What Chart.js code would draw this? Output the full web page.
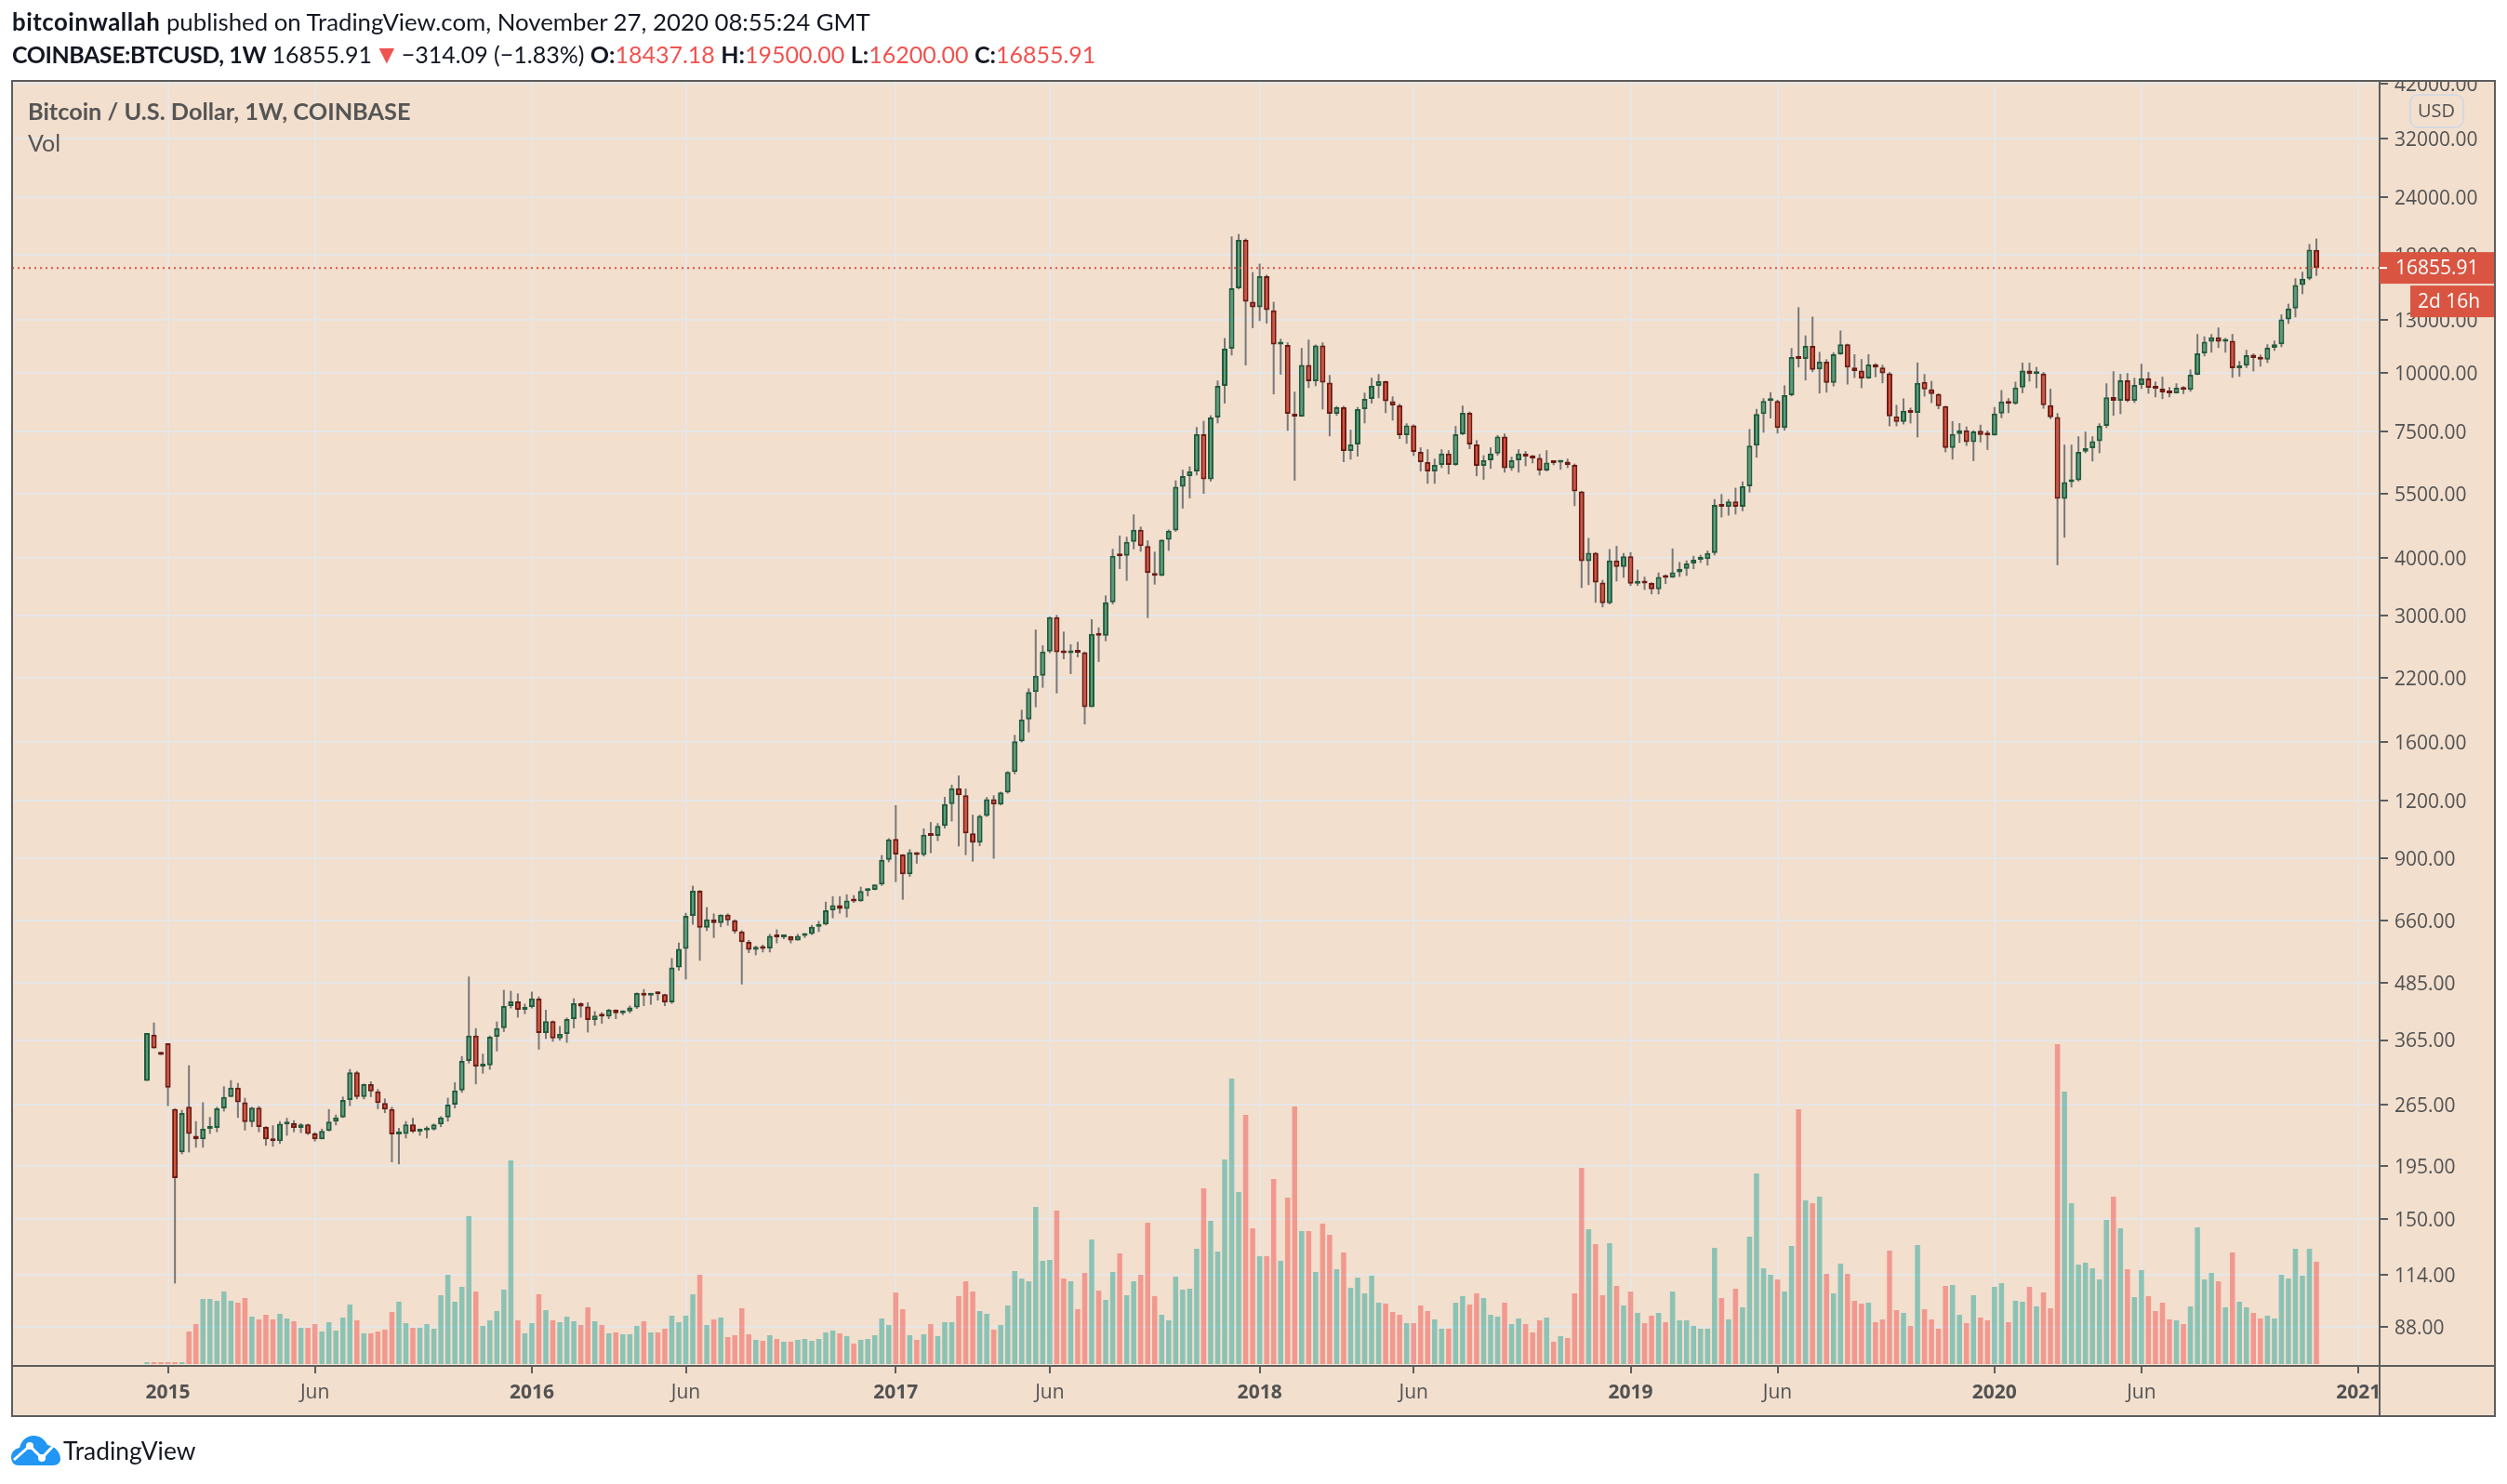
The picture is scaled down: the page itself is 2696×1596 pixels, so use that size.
<!DOCTYPE html>
<html>
<head>
<meta charset="utf-8">
<title>BTCUSD 1W</title>
<script src="https://cdn.jsdelivr.net/npm/chart.js@4/dist/chart.umd.min.js"></script>
<style>
  html, body { margin: 0; padding: 0; background: #fff; }
  #wrap { position: relative; width: 2696px; height: 1596px; overflow: hidden; }
  canvas { position: absolute; left: 0; top: 0; }
  .txt { position: absolute; white-space: nowrap; font-family: Lato, "Open Sans", sans-serif; color: #131722; }
  .txt b { font-weight: 700; }
  .red { color: #ef5350; }
</style>
</head>
<body>
<div id="wrap">
  <canvas id="btcChart" width="2696" height="1596"></canvas>
  <div class="txt" style="left:13px;top:8px;font-size:25.8px"><b style="letter-spacing:.5px">bitcoinwallah</b> published on TradingView.com, November 27, 2020 08:55:24 GMT</div>
  <div class="txt" style="left:13px;top:43px;font-size:25px"><b style="letter-spacing:-.45px">COINBASE:BTCUSD, 1W</b> 16855.91<span class="red" style="font-size:28px;margin:0 2px 0 2px;line-height:20px">▼</span>−314.09 (−1.83%) <b>O:</b><span class="red">18437.18</span> <b>H:</b><span class="red">19500.00</span> <b>L:</b><span class="red">16200.00</span> <b>C:</b><span class="red">16855.91</span></div>
  <div class="txt" style="left:30px;top:104px;font-size:25.3px;color:#555;font-weight:700">Bitcoin / U.S. Dollar, 1W, COINBASE</div>
  <div class="txt" style="left:30px;top:138px;font-size:25px;color:#555">Vol</div>
  <svg style="position:absolute;left:12px;top:1543px" width="54" height="34" viewBox="0 0 54 34">
    <path fill="#2196f3" d="M8 33C2 33 0 28 0 24c0-5 4-9 9-10C11 6 17 1 24 1c7 0 12 4 15 10 8 1 14 8 14 15 0 4-3 7-8 7z"/>
    <path fill="none" stroke="#fff" stroke-width="3" d="M3 27 L20 12 L33 25 L49 8"/>
    <circle cx="20" cy="12" r="4" fill="#fff"/><circle cx="33" cy="25" r="4" fill="#fff"/>
  </svg>
  <div class="txt" style="left:68px;top:1544px;font-size:26.4px">TradingView</div>
</div>
<script>
const opens = [298,375,344,359,259,209,262,227,223,235,236,260,275,288,268,243,261,237,223,221,240,241.5,236,240,229.6,223,232.5,243.5,248.5,271,
311,275,293,283,267,259,228.5,229,240,231.6,233,234,240,248.5,265,284,329,373,320,322,371,387,432,442,424,430,448,378,401,368,
376,405,438,431,403,413,410,424,417,420.7,429,461,455,459,458,440,523,574,676,766,637,664,652,680,661,626,594,571,580,575,
612,608,611,598,612,618,640,648,695,713,700,730,727,765,769,790,893,990,917,831,927,914,1011,1005,1056,1178,1274,1230,1018,972,
1110,1207,1175,1247,1380,1607,1793,2053,2227,2511,2979,2500,2490,2500,2500,1906,2741,2716,3207,4050,4040,4329,4597,4237,3706,3655,4370,4580,5686,6000,
6140,7385,5899,8025,9389,11290,15240,19380,14245,13860,16185,13660,11520,11500,8175,8062,10410,9608,11467,9535,8175,8444,6796,7020,8365,8800,9389,9608,8694,8520,
7350,7710,6765,6430,6140,6340,6711,6340,7385,8210,7020,6310,6490,6711,7294,6235,6490,6711,6620,6560,6170,6420,6410,6440,6340,5556,3930,4097,3535,3190,
3945,3820,4030,3517,3540,3526,3419,3650,3622,3722,3785,3885,3958,3975,4093,5196,5150,5292,5150,5700,6980,8166,8712,8712,7620,8958,10823,10724,11440,10190,
10576,9525,10974,11545,10287,10130,9733,10450,10287,9990,8066,7847,8294,8210,9570,9223,9012,8487,6896,7390,7530,7100,7510,7380,7340,8180,8685,8590,9308,10130,
9950,9980,8527,8037,5355,5818,5876,6770,6890,7129,7700,8880,8720,9650,8720,9430,9740,9330,9260,9110,9050,9310,9200,9920,11030,11680,11950,11680,11740,10250,
10380,10960,10800,10690,11340,11540,13050,13790,15480,15980,18437.18];
const highs = [378,398,344,359,260,258,322,244,268,249,262,290,299,295,274,262,263,238,239,244,248,245,241.5,241,231,235,259,252,275.5,316,
313,294,297,286,273,262,236,244,248,235,238,241,250,274,296,337,500,387,341,373,400,468,466,460,437,464,453,424,402,391,
408,449,440,440,421,419,426,425,423,433,462,470,461,465,459,548,592,686,785,768,706,684,681,684,664,629,600,583,586,618,
632,612,612,618,620,646,659,725,745,745,752,749,781,775,791,914,994,1171,918,941,927,1043,1077,1071,1220,1296,1357,1272,1117,1117,
1219,1230,1252,1386,1660,1880,2091,2801,2590,2985,3010,2771,2603,2635,2510,2947,2830,3317,4179,4464,4437,4957,4668,4357,4121,4380,4600,5872,6188,6293,
7651,7890,8110,9637,11900,19710,19950,19500,16510,17214,16300,14245,11860,11650,9118,11327,11810,11520,11645,9907,8490,8500,7546,8450,9076,9770,9954,9630,8910,8590,
7794,7750,6915,6850,6540,6850,6820,7690,8510,8260,7170,6650,6915,7350,7407,6600,6850,6790,6660,6690,6818,6480,6460,6540,6380,5570,4411,4110,3582,4174,
4240,4093,4112,3768,3640,3540,3716,3680,4187,3915,3945,4037,4056,4143,5350,5484,5350,5660,5840,7574,8370,8830,9095,8760,9408,11317,13866,12054,13240,11110,
10710,11090,12354,11570,10980,10720,10980,10500,10420,10045,8540,8820,8420,10540,9950,9620,9050,8500,7880,7800,7670,7530,7740,7520,8450,9190,8830,9580,10530,10530,
10310,10050,9250,8200,7009,7009,7306,7477,7306,7795,9505,10090,9955,10000,9770,10472,10050,9590,9820,9330,9505,9370,10180,12140,12000,12140,12540,11900,12140,10620,
11220,11020,10960,11540,11750,13380,14110,16010,16530,18980,19500];
const lows = [298,350,339,263,109,207,209,214,214,229,231,256,275,248,233,237,231,216,215,218,227,231,230,228,220.6,223,232,239,248,263,
272,272,275,259,254,199,197,224,230,227,224,233,237,243.5,260,281,325,293,309,315,345,380,427,408,415,427,348,367,362,364,
360,387,408,379,392,396,405,405,413,417,426,432,435,444,432,437,515,493,647,541,627,606,639,644,619,481,562,556,564,564,
590,602,590,598,606,615,624,645,668,684,671,721,725,745,768,785,882,799,732,821,876,908,923,980,1043,1080,954,914,885,956,
1105,898,1170,1240,1366,1600,1681,1904,2097,2490,2040,2417,2245,2440,1749,1906,2384,2643,3173,3781,3566,4172,4121,2965,3501,3650,4140,4548,5105,5370,
6019,5496,5836,7794,8600,10917,15150,10390,12500,12950,12790,9000,9925,7511,5863,8050,9290,9375,8350,7308,8090,6430,6510,6610,7794,8600,8830,8200,7900,7213,
7040,6630,6140,5774,5774,6245,6050,6310,7350,6860,5995,5890,6220,6640,6103,6160,6103,6300,6390,6019,6140,6330,6190,6245,5168,3443,3491,3198,3127,3173,
3556,3622,3478,3478,3410,3335,3335,3510,3620,3636,3655,3780,3900,3848,4045,4887,4930,4957,5040,5530,6574,7440,7985,7410,7517,8915,10287,9643,10045,9040,
9080,9360,10950,9452,9760,9280,9720,9800,9510,7680,7680,7750,7790,7266,8902,8620,8360,6750,6510,7070,6970,6460,7090,6830,7330,8000,8200,8550,9050,9590,
9280,8380,7960,3853,4418,5670,5840,6720,6450,6720,7615,8090,8160,8660,8625,9245,9030,8870,8790,8870,9040,9010,9120,9900,10870,11070,11330,11070,9770,9820,
10260,10090,10330,10520,11170,11380,12770,13190,14800,15860,16200];
const closes = [378,350,339,288,184,254,229,223,235,236,260,275,288,268,243,261,237,223,221,241,241.5,236,240,229,223,232.5,243.5,248.5,271,311,
275,293,283,267,258.6,228.5,229,240,231.6,233,234,240,248.5,265,284,329,373,320,322,371,387,432,442,424,430,449,378,401,368,376,
405,438,431,403,412,410,424,417,420.7,429,461,455,459,458,440,523,574,676,766,637,664,652,680,661,626,593,571,580,574,612,
608,611,598,612,618,640,649,695,713,700,729,726,765,769,790,893,988,917,831,927,914,1011,1005,1056,1178,1274,1230,1018,972,1110,
1207,1175,1247,1380,1607,1793,2053,2227,2511,2979,2500,2490,2500,2495,1906,2741,2716,3207,4040,4030,4329,4597,4237,3706,3655,4370,4576,5686,6000,6140,
7385,5899,8025,9389,11290,15240,19380,14245,13860,16185,13666,11520,11530,8175,8062,10410,9608,11467,9535,8175,8444,6796,7020,8365,8800,9389,9608,8694,8520,7350,
7710,6765,6430,6140,6340,6711,6340,7385,8210,7020,6310,6490,6711,7294,6235,6490,6711,6610,6550,6170,6410,6400,6440,6340,5556,3930,4097,3535,3190,3945,
3820,4030,3517,3535,3520,3419,3636,3620,3722,3785,3885,3958,3975,4093,5196,5150,5292,5150,5700,6980,8166,8712,8730,7620,8958,10823,10724,11440,10160,10576,
9525,10974,11545,10287,10110,9733,10440,10287,9990,8066,7847,8294,8210,9525,9223,9012,8487,6896,7390,7530,7100,7490,7360,7340,8180,8685,8590,9308,10130,9950,
9980,8527,8030,5355,5818,5876,6765,6890,7129,7700,8870,8720,9650,8720,9430,9740,9300,9260,9090,9050,9300,9200,9920,11030,11680,11950,11680,11720,10250,10380,
10930,10780,10690,11340,11540,13050,13790,15480,15980,18450,16855.91];
const volumes = [6,6,6,6,6,6,105,129,210,210,204,234,204,198,213,153,144,159,144,162,147,138,117,117,129,105,135,108,150,192,
141,99,99,105,111,168,201,132,117,117,129,114,222,288,201,249,477,234,123,141,171,240,657,141,99,132,225,174,141,135,
153,138,126,183,138,126,99,102,96,96,123,138,102,102,114,156,135,156,225,288,126,144,150,87,93,180,96,78,75,93,
81,72,72,78,81,75,81,102,108,99,90,66,78,81,93,147,126,231,177,93,78,96,129,90,135,135,219,267,234,171,
162,111,126,189,300,276,267,507,333,336,495,276,267,177,294,402,237,207,297,357,222,267,288,456,219,159,141,282,240,243,
372,567,462,363,660,921,555,804,438,348,348,597,333,537,831,429,429,297,453,417,306,360,246,279,228,285,198,195,168,159,
132,132,189,171,144,114,114,198,219,192,228,213,159,153,198,129,147,129,102,141,150,72,90,84,228,633,435,387,222,390,
252,189,234,165,132,156,165,135,234,141,141,123,114,114,375,213,144,243,183,411,615,309,288,273,234,381,822,528,519,540,
291,228,324,291,204,195,198,135,144,366,174,165,123,384,177,144,114,252,255,159,132,222,150,141,249,261,135,204,201,249,
186,231,180,1032,879,519,321,327,309,273,465,540,438,306,216,303,219,171,198,144,141,129,186,441,273,294,267,183,360,201,
183,165,147,156,147,288,276,372,285,372,330];

const priceTicks = [42000,32000,24000,18000,13000,10000,7500,5500,4000,3000,2200,1600,1200,900,660,485,365,265,195,150,114,88];
const timeTicks = [3,24,55,77,107,129,159,181,212,233,264,285,316];
const timeLabels = ['2015','Jun','2016','Jun','2017','Jun','2018','Jun','2019','Jun','2020','Jun','2021'];

const UP_FILL = '#5c9c7b', UP_EDGE = '#1f5c3d';
const DOWN_FILL = '#d9503c', DOWN_EDGE = '#6d1a14';
const AXIS = '#5d5d5d', GRID = '#e6e6e6', PANEL = '#f2dfce', LABEL = '#525252', BADGE = '#d95542';

const isUp = i => closes[i] >= opens[i];
const last = closes.length - 1;

// redraws the frame, the cut-off top label and the badges on the price axis
const framePlugin = {
  id: 'frame',
  beforeDraw(chart) {
    const { ctx, chartArea: a } = chart;
    ctx.save();
    ctx.fillStyle = PANEL;
    ctx.fillRect(a.left, a.top, 2683 - a.left, 1523 - a.top);
    ctx.restore();
  },
  afterDraw(chart) {
    const { ctx, chartArea: a, scales } = chart;
    ctx.save();
    ctx.fillStyle = '#fff';
    ctx.fillRect(a.right, 60, 2696 - a.right, a.top - 60);
    ctx.strokeStyle = AXIS;
    ctx.lineWidth = 2;
    ctx.strokeRect(a.left, a.top, 2683 - a.left, 1523 - a.top);
    ctx.beginPath();
    ctx.moveTo(a.right, a.top); ctx.lineTo(a.right, 1523);
    ctx.moveTo(a.left, a.bottom); ctx.lineTo(2683, a.bottom);
    ctx.stroke();

    ctx.fillStyle = PANEL;
    ctx.strokeStyle = '#d5d9e0';
    ctx.beginPath();
    ctx.roundRect(2592, 102, 57, 35, 8);
    ctx.fill(); ctx.stroke();
    ctx.fillStyle = LABEL;
    ctx.font = '20px "Open Sans"';
    ctx.textAlign = 'center';
    ctx.textBaseline = 'middle';
    ctx.fillText('USD', 2620, 120);

    const py = scales.y.getPixelForValue(closes[last]);
    ctx.fillStyle = BADGE;
    ctx.fillRect(a.right, py - 17, 2682 - a.right, 34);
    ctx.fillRect(2592, py + 19, 90, 34);
    ctx.fillStyle = '#fff';
    ctx.fillRect(a.right, py - 1, 8, 2);
    ctx.font = '21px "Open Sans"';
    ctx.textAlign = 'left';
    ctx.fillText(closes[last].toFixed(2), 2576, py + 1);
    ctx.fillText('2d 16h', 2600, py + 37);
    ctx.restore();
  }
};

new Chart(document.getElementById('btcChart').getContext('2d'), {
  type: 'bar',
  plugins: [framePlugin],
  data: {
    datasets: [
      {
        // last close line
        type: 'line',
        data: [{ x: -19.27, y: closes[last] }, { x: 319.03, y: closes[last] }],
        yAxisID: 'y',
        borderColor: BADGE,
        borderWidth: 2,
        borderDash: [2, 4],
        pointRadius: 0,
        order: 0
      },
      {
        label: 'body',
        data: opens.map((o, i) => ({ x: i, y: [o, closes[i]] })),
        yAxisID: 'y',
        barThickness: 6,
        minBarLength: 3,
        borderWidth: 2,
        borderSkipped: false,
        inflateAmount: 0,
        backgroundColor: opens.map((o, i) => isUp(i) ? UP_FILL : DOWN_FILL),
        borderColor: opens.map((o, i) => isUp(i) ? UP_EDGE : DOWN_EDGE),
        order: 1
      },
      {
        label: 'wick',
        data: lows.map((l, i) => ({ x: i, y: [l, highs[i]] })),
        yAxisID: 'y',
        barThickness: 2,
        borderWidth: 0,
        inflateAmount: 0,
        backgroundColor: '#787878',
        order: 2
      },
      {
        label: 'Vol',
        data: volumes.map((v, i) => ({ x: i, y: v })),
        yAxisID: 'yVol',
        barThickness: 5.5,
        borderWidth: 0,
        inflateAmount: 0,
        backgroundColor: opens.map((o, i) => isUp(i) ? 'rgba(38,166,154,0.5)' : 'rgba(239,83,80,0.5)'),
        order: 3
      }
    ]
  },
  options: {
    responsive: false,
    animation: false,
    devicePixelRatio: 1,
    layout: { padding: { left: 13, top: 87, right: 13, bottom: 73 } },
    datasets: { bar: { grouped: false } },
    plugins: { legend: { display: false }, tooltip: { enabled: false } },
    scales: {
      x: {
        type: 'linear',
        min: -19.27,
        max: 319.03,
        offset: false,
        afterBuildTicks: axis => { axis.ticks = timeTicks.map(value => ({ value })); },
        afterFit: axis => { axis.height = 54; },
        grid: { offset: false, color: GRID, lineWidth: 2, tickColor: AXIS, tickLength: 8, tickWidth: 2 },
        border: { display: false },
        ticks: {
          autoSkip: false,
          maxRotation: 0,
          padding: 8,
          color: LABEL,
          font: c => ({ family: 'Open Sans', size: 21, weight: timeLabels[c.index] === 'Jun' ? 'normal' : 'bold' }),
          callback: (v, i) => timeLabels[i]
        }
      },
      y: {
        type: 'logarithmic',
        position: 'right',
        min: 72.4,
        max: 42650,
        afterBuildTicks: axis => { axis.ticks = priceTicks.map(value => ({ value })); },
        afterFit: axis => { axis.width = 124; },
        grid: { color: GRID, lineWidth: 2, tickColor: AXIS, tickLength: 9, tickWidth: 2 },
        border: { display: false },
        ticks: {
          autoSkip: false,
          padding: 7,
          labelOffset: 2,
          color: LABEL,
          font: { family: 'Open Sans', size: 21 },
          callback: v => v.toFixed(2)
        }
      },
      yVol: {
        type: 'linear',
        display: false,
        min: -6,
        max: 4140
      }
    }
  }
});
</script>
</body>
</html>
